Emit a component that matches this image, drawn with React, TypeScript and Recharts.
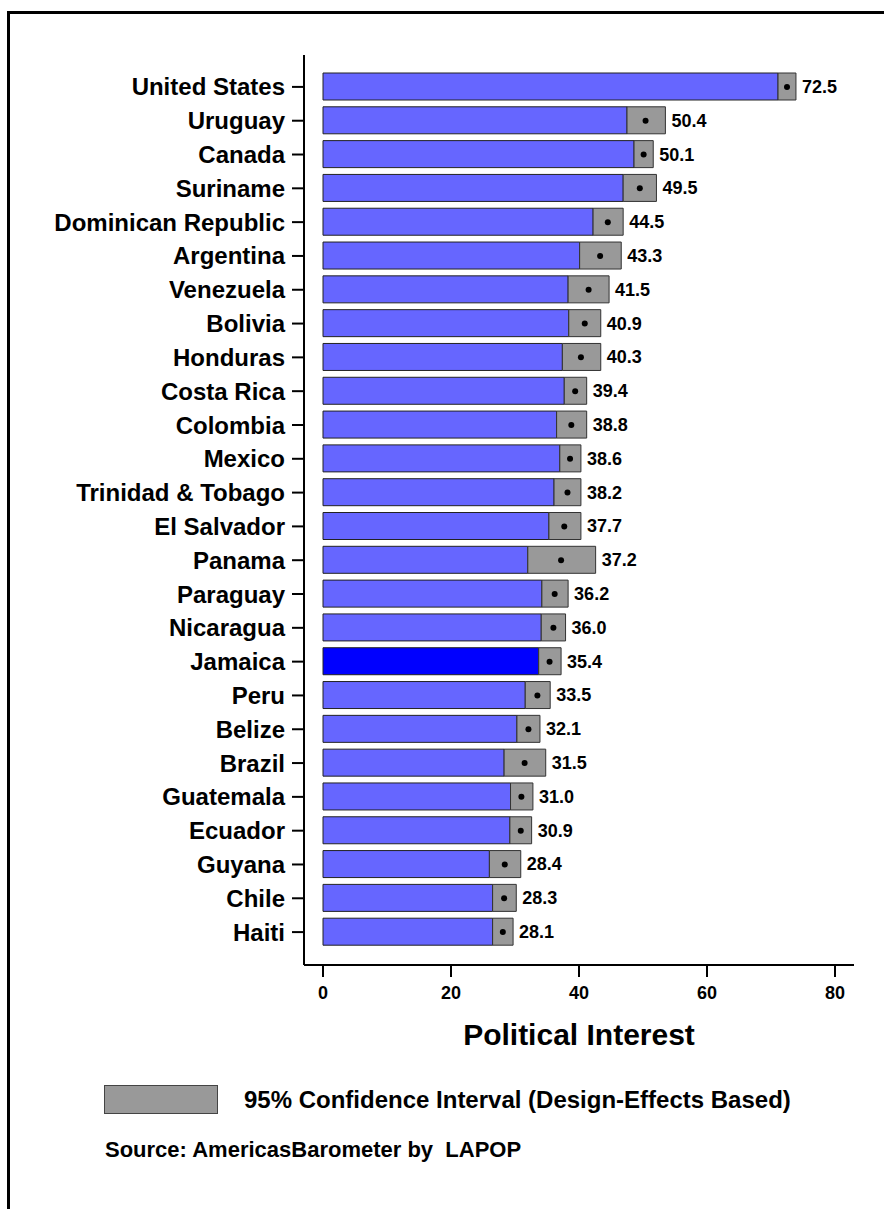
import React from "react"
import {
  ComposedChart,
  Bar,
  Line,
  XAxis,
  YAxis,
  Cell,
  LabelList,
  Label,
} from "recharts"

const countries = [
  "United States", "Uruguay", "Canada", "Suriname", "Dominican Republic",
  "Argentina", "Venezuela", "Bolivia", "Honduras", "Costa Rica", "Colombia",
  "Mexico", "Trinidad & Tobago", "El Salvador", "Panama", "Paraguay",
  "Nicaragua", "Jamaica", "Peru", "Belize", "Brazil", "Guatemala", "Ecuador",
  "Guyana", "Chile", "Haiti",
]

const means = [
  72.5, 50.4, 50.1, 49.5, 44.5, 43.3, 41.5, 40.9, 40.3, 39.4, 38.8, 38.6, 38.2,
  37.7, 37.2, 36.2, 36.0, 35.4, 33.5, 32.1, 31.5, 31.0, 30.9, 28.4, 28.3, 28.1,
]

// 95% confidence interval bounds
const ciLow = [
  71.1, 47.5, 48.6, 46.9, 42.2, 40.1, 38.3, 38.4, 37.4, 37.7, 36.5, 37.0, 36.1,
  35.3, 32.0, 34.2, 34.1, 33.7, 31.6, 30.3, 28.3, 29.3, 29.2, 26.0, 26.5, 26.5,
]
const ciHigh = [
  73.9, 53.5, 51.6, 52.1, 46.9, 46.6, 44.7, 43.4, 43.4, 41.2, 41.2, 40.3, 40.3,
  40.3, 42.6, 38.3, 37.9, 37.2, 35.5, 33.9, 34.8, 32.8, 32.6, 30.9, 30.2, 29.7,
]

const xTicks = [0, 20, 40, 60, 80]
const highlight = "Jamaica"

const data = countries.map((country, i) => ({
  country,
  mean: means[i],
  lo: ciLow[i],
  span: +(ciHigh[i] - ciLow[i]).toFixed(2),
}))

const FONT = "'Liberation Sans', Arial, Helvetica, sans-serif"

export default function App() {
  return (
    <div
      style={{
        position: "absolute",
        left: 0,
        top: 0,
        width: 884,
        height: 1209,
        background: "#fff",
        overflow: "hidden",
        fontFamily: FONT,
      }}
    >
      <div
        style={{
          position: "absolute",
          left: 7,
          top: 11,
          right: -10,
          bottom: -10,
          borderLeft: "3px solid #000",
          borderTop: "3px solid #000",
        }}
      />
      <div style={{ position: "absolute", left: 0, top: 0 }}>
        <ComposedChart
          width={884}
          height={1060}
          data={data}
          layout="vertical"
          margin={{ top: 55, right: 30, bottom: 10, left: 0 }}
          barSize={27}
        >
          <XAxis
            type="number"
            domain={[0, 80]}
            ticks={xTicks}
            padding={{ left: 19, right: 19 }}
            height={85}
            tickSize={12}
            tickMargin={9}
            axisLine={{ stroke: "#000", strokeWidth: 2 }}
            tickLine={{ stroke: "#000", strokeWidth: 2 }}
            tick={{ fontSize: 18, fontWeight: 700, fill: "#000", fontFamily: FONT }}
          >
            <Label
              value="Political Interest"
              position="insideBottom"
              offset={5}
              style={{ fontSize: 30, fontWeight: 700, fill: "#000", fontFamily: FONT }}
            />
          </XAxis>
          <YAxis
            type="category"
            dataKey="country"
            width={304}
            padding={{ top: 15, bottom: 16 }}
            tickSize={12}
            tickMargin={7}
            interval={0}
            axisLine={{ stroke: "#000", strokeWidth: 2 }}
            tickLine={{ stroke: "#000", strokeWidth: 2 }}
            tick={{ fontSize: 24, fontWeight: 700, fill: "#000", fontFamily: FONT }}
          />
          <Bar dataKey="lo" stackId="a" fill="#6666ff" stroke="#222" strokeWidth={1} isAnimationActive={false}>
            {data.map((d) => (
              <Cell key={d.country} fill={d.country === highlight ? "#0000ff" : "#6666ff"} />
            ))}
          </Bar>
          <Bar dataKey="span" stackId="a" fill="#999999" stroke="#333" strokeWidth={1} isAnimationActive={false}>
            <LabelList
              dataKey="mean"
              position="right"
              offset={6}
              formatter={(v: any) => Number(v).toFixed(1)}
              style={{ fontSize: 18, fontWeight: 700, fill: "#000", fontFamily: FONT }}
            />
          </Bar>
          <Line
            dataKey="mean"
            stroke="none"
            dot={{ r: 3, fill: "#000", stroke: "none" }}
            activeDot={false}
            isAnimationActive={false}
          />
        </ComposedChart>
      </div>
      <div
        style={{
          position: "absolute",
          left: 104,
          top: 1085,
          width: 112,
          height: 27,
          background: "#999999",
          border: "1px solid #444",
        }}
      />
      <div
        style={{
          position: "absolute",
          left: 244,
          top: 1085,
          height: 29,
          lineHeight: "29px",
          fontSize: 24,
          fontWeight: 700,
          whiteSpace: "nowrap",
        }}
      >
        95% Confidence Interval (Design-Effects Based)
      </div>
      <div
        style={{
          position: "absolute",
          left: 105,
          top: 1136,
          lineHeight: "28px",
          fontSize: 22,
          fontWeight: 700,
          whiteSpace: "pre",
        }}
      >
        Source: AmericasBarometer by  LAPOP
      </div>
    </div>
  )
}
